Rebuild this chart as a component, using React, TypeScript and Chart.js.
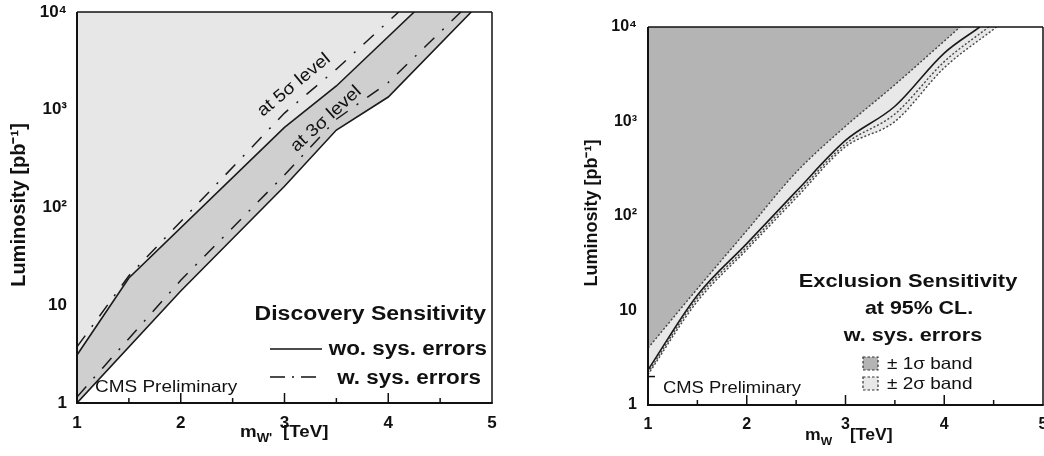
import React, { useEffect, useRef } from "react";
import { Chart, registerables } from "chart.js";

Chart.register(...registerables);

const FONT = "'Liberation Sans', Arial, Helvetica, sans-serif";
const INK = "#111111";

// ---------- axes ----------
const massTicks = [1, 2, 3, 4, 5];
const massMajorInner = [2, 3, 4];
const massMinorInner = [1.5, 2.5, 3.5, 4.5];
const lumiTicks = [1, 10, 100, 1000, 10000];
const lumiTickLabels = ["1", "10", "10²", "10³", "10⁴"];

// ---------- left panel: discovery sensitivity ----------
const disc5NoSysMass = [1, 1.5, 3, 3.5, 4.25];
const disc5NoSysLumi = [3.1, 19, 660, 1750, 10000];
const disc5SysMass = [1, 1.5, 3, 3.5, 4.1];
const disc5SysLumi = [3.75, 20, 925, 2600, 10000];
const disc3NoSysMass = [1, 2, 3, 3.5, 4, 4.8];
const disc3NoSysLumi = [1, 14, 165, 620, 1350, 10000];
const disc3SysMass = [1, 1.25, 2, 3, 3.5, 4, 4.7];
const disc3SysLumi = [1.15, 2.3, 18, 215, 800, 1900, 10000];

// ---------- right panel: exclusion sensitivity ----------
const exclUp2Mass = [1, 1.5, 2, 2.5, 3, 3.5, 4, 4.16];
const exclUp2Lumi = [4.0, 17, 70, 290, 890, 2450, 7100, 10000];
const exclMedMass = [1, 1.5, 2, 2.5, 3, 3.5, 4, 4.36];
const exclMedLumi = [2.35, 14.5, 51, 182, 630, 1450, 5300, 10000];
const exclLo1Mass = [1, 1.5, 2, 2.5, 3, 3.5, 4, 4.45];
const exclLo1Lumi = [2.2, 13.5, 47, 168, 580, 1200, 4300, 10000];
const exclLo2Mass = [1, 1.5, 2, 2.5, 3, 3.5, 4, 4.53];
const exclLo2Lumi = [2.1, 12.5, 44, 155, 540, 1000, 3700, 10000];

const pts = (m: number[], l: number[]) => m.map((x, i) => ({ x, y: l[i] }));

function txt(
  ctx: CanvasRenderingContext2D,
  s: string,
  x: number,
  y: number,
  font: string,
  align: CanvasTextAlign = "left",
  sx = 1.15,
  angle = 0,
  baseline: CanvasTextBaseline = "alphabetic"
) {
  ctx.save();
  ctx.translate(x, y);
  if (angle) ctx.rotate(angle);
  ctx.scale(sx, 1);
  ctx.font = font;
  ctx.textAlign = align;
  ctx.textBaseline = baseline;
  ctx.fillStyle = INK;
  ctx.fillText(s, 0, 0);
  ctx.restore();
}

function line(ctx: CanvasRenderingContext2D, x1: number, y1: number, x2: number, y2: number) {
  ctx.beginPath();
  ctx.moveTo(x1, y1);
  ctx.lineTo(x2, y2);
  ctx.stroke();
}

function frameAndTicks(ctx: CanvasRenderingContext2D, chart: any, yTickAt2: boolean) {
  const { left, right, top, bottom } = chart.chartArea;
  const xs = chart.scales.x;
  const ys = chart.scales.y;
  ctx.strokeStyle = INK;
  ctx.lineWidth = 1.5;
  line(ctx, left, top, right, top);
  line(ctx, right, top, right, bottom);
  ctx.lineWidth = 2;
  line(ctx, left, top, left, bottom + 1);
  line(ctx, left - 1, bottom, right + 0.75, bottom);
  ctx.lineWidth = 1.5;
  massMajorInner.forEach((v) => {
    const p = xs.getPixelForValue(v);
    line(ctx, p, bottom, p, bottom - 10);
  });
  massMinorInner.forEach((v) => {
    const p = xs.getPixelForValue(v);
    line(ctx, p, bottom, p, bottom - 5);
  });
  if (yTickAt2) {
    const p = ys.getPixelForValue(2);
    line(ctx, left, p, left + 7, p);
  }
}

function xTitle(ctx: CanvasRenderingContext2D, x: number, y: number, bracketX: number, size: number, sub: string) {
  txt(ctx, "m", x, y, `bold ${size}px ${FONT}`, "left", 1.1);
  ctx.font = `bold ${size}px ${FONT}`;
  const mw = ctx.measureText("m").width * 1.1;
  txt(ctx, sub, x + mw, y + 5, `bold ${Math.round(size * 0.68)}px ${FONT}`, "left", 1.1);
  txt(ctx, "[TeV]", bracketX, y, `bold ${size}px ${FONT}`, "left", 1.1);
}

const leftDeco = {
  id: "leftDeco",
  afterDraw(chart: any) {
    const ctx = chart.ctx as CanvasRenderingContext2D;
    ctx.save();
    frameAndTicks(ctx, chart, false);
    // y title
    txt(ctx, "Luminosity [pb⁻¹]", 19, 205, `bold 20px ${FONT}`, "center", 1.0, -Math.PI / 2, "middle");
    // x title
    xTitle(ctx, 240, 437, 283, 17, "W'");
    // curve labels
    txt(ctx, "at 5σ level", 294, 85, `17.5px ${FONT}`, "center", 1.1, -0.69, "middle");
    txt(ctx, "at 3σ level", 326, 119, `17.5px ${FONT}`, "center", 1.1, -0.74, "middle");
    // legend block
    txt(ctx, "Discovery Sensitivity", 486, 320, `bold 20px ${FONT}`, "right", 1.15);
    txt(ctx, "wo. sys. errors", 487, 355, `bold 19.5px ${FONT}`, "right", 1.15);
    txt(ctx, "w. sys. errors", 481, 384, `bold 19.5px ${FONT}`, "right", 1.15);
    ctx.strokeStyle = INK;
    ctx.lineWidth = 1.6;
    line(ctx, 270, 349, 322, 349);
    ctx.setLineDash([15, 7, 2, 7]);
    line(ctx, 270, 377, 322, 377);
    ctx.setLineDash([]);
    txt(ctx, "CMS Preliminary", 95, 392, `16.5px ${FONT}`, "left", 1.15);
    ctx.restore();
  },
};

const rightDeco = {
  id: "rightDeco",
  afterDraw(chart: any) {
    const ctx = chart.ctx as CanvasRenderingContext2D;
    ctx.save();
    frameAndTicks(ctx, chart, true);
    txt(ctx, "Luminosity [pb⁻¹]", 62, 213, `bold 18px ${FONT}`, "center", 1.0, -Math.PI / 2, "middle");
    xTitle(ctx, 275, 440, 320, 16, "W");
    txt(ctx, "Exclusion Sensitivity", 378, 287, `bold 19px ${FONT}`, "center", 1.15);
    txt(ctx, "at 95% CL.", 389, 314, `bold 18.6px ${FONT}`, "center", 1.15);
    txt(ctx, "w. sys. errors", 383, 341, `bold 18.8px ${FONT}`, "center", 1.15);
    // band legend
    ctx.lineWidth = 1.2;
    ctx.strokeStyle = "#333";
    ctx.setLineDash([2.5, 2]);
    ctx.fillStyle = "#b4b4b4";
    ctx.fillRect(333, 357, 15, 13);
    ctx.strokeRect(333, 357, 15, 13);
    ctx.fillStyle = "#e8e8e8";
    ctx.fillRect(333, 377, 15, 13);
    ctx.strokeRect(333, 377, 15, 13);
    ctx.setLineDash([]);
    txt(ctx, "± 1σ band", 357, 369, `16.5px ${FONT}`, "left", 1.15);
    txt(ctx, "± 2σ band", 357, 389, `16.5px ${FONT}`, "left", 1.15);
    txt(ctx, "CMS Preliminary", 133, 393, `16px ${FONT}`, "left", 1.15);
    ctx.restore();
  },
};

function zeroPad(s: any) {
  s.paddingTop = 0;
  s.paddingBottom = 0;
  s.paddingLeft = 0;
  s.paddingRight = 0;
}

function scales(fontSize: number, xPad: number, yPad: number, yWidth: number, xHeight: number) {
  const tickFont = { family: FONT, size: fontSize, weight: "bold" as const };
  return {
    x: {
      type: "linear" as const,
      min: 1,
      max: 5,
      afterBuildTicks: (s: any) => {
        s.ticks = massTicks.map((v) => ({ value: v }));
      },
      afterFit: (s: any) => {
        s.height = xHeight;
        zeroPad(s);
      },
      ticks: { font: tickFont, color: INK, padding: xPad, maxRotation: 0, autoSkip: false, callback: (v: any) => String(v) },
      grid: { display: false, drawTicks: false },
      border: { display: false },
    },
    y: {
      type: "logarithmic" as const,
      min: 1,
      max: 10000,
      afterBuildTicks: (s: any) => {
        s.ticks = lumiTicks.map((v) => ({ value: v }));
      },
      afterFit: (s: any) => {
        s.width = yWidth;
        zeroPad(s);
      },
      ticks: {
        font: tickFont,
        color: INK,
        padding: yPad,
        autoSkip: false,
        callback: (v: any) => lumiTickLabels[lumiTicks.indexOf(Number(v))] ?? "",
      },
      grid: { display: false, drawTicks: false },
      border: { display: false },
    },
  };
}

const common = {
  type: "line" as const,
  pointRadius: 0,
  pointHoverRadius: 0,
};

function leftConfig(): any {
  const dashDot = [14, 11, 2, 11];
  return {
    type: "line",
    data: {
      datasets: [
        { ...common, label: "3σ wo. sys.", data: pts(disc3NoSysMass, disc3NoSysLumi), borderColor: "#1a1a1a", borderWidth: 1.6, fill: "end", backgroundColor: "#cfcfcf", order: 10, tension: 0 },
        { ...common, label: "5σ wo. sys.", data: pts(disc5NoSysMass, disc5NoSysLumi), borderColor: "#1a1a1a", borderWidth: 1.6, fill: "end", backgroundColor: "#e7e7e7", order: 9, tension: 0 },
        { ...common, label: "5σ w. sys.", data: pts(disc5SysMass, disc5SysLumi), borderColor: "#1a1a1a", borderWidth: 1.5, borderDash: dashDot, fill: false, order: 2, tension: 0 },
        { ...common, label: "3σ w. sys.", data: pts(disc3SysMass, disc3SysLumi), borderColor: "#1a1a1a", borderWidth: 1.5, borderDash: dashDot, fill: false, order: 2, tension: 0 },
      ],
    },
    options: {
      animation: false,
      responsive: false,
      layout: { autoPadding: false, padding: { top: 12, right: 38, left: 0, bottom: 0 } },
      plugins: { legend: { display: false }, tooltip: { enabled: false } },
      scales: scales(17, 10, 10, 77, 53),
    },
    plugins: [leftDeco],
  };
}

function rightConfig(): any {
  const dotted = [2, 2];
  return {
    type: "line",
    data: {
      datasets: [
        { ...common, label: "-2σ", data: pts(exclLo2Mass, exclLo2Lumi), borderColor: "#444", borderWidth: 1.4, borderDash: dotted, fill: "end", backgroundColor: "#e8e8e8", order: 10, cubicInterpolationMode: "monotone" },
        { ...common, label: "+2σ", data: pts(exclUp2Mass, exclUp2Lumi), borderColor: "#444", borderWidth: 1.4, borderDash: dotted, fill: "end", backgroundColor: "#b4b4b4", order: 9, cubicInterpolationMode: "monotone" },
        { ...common, label: "-1σ", data: pts(exclLo1Mass, exclLo1Lumi), borderColor: "#444", borderWidth: 1.4, borderDash: dotted, fill: false, order: 3, cubicInterpolationMode: "monotone" },
        { ...common, label: "median", data: pts(exclMedMass, exclMedLumi), borderColor: "#1a1a1a", borderWidth: 1.6, fill: false, order: 1, cubicInterpolationMode: "monotone" },
      ],
    },
    options: {
      animation: false,
      responsive: false,
      layout: { autoPadding: false, padding: { top: 27, right: 1, left: 0, bottom: 0 } },
      plugins: { legend: { display: false }, tooltip: { enabled: false } },
      scales: scales(16, 10, 11, 118, 51),
    },
    plugins: [rightDeco],
  };
}

export default function App() {
  const leftRef = useRef<HTMLCanvasElement>(null);
  const rightRef = useRef<HTMLCanvasElement>(null);
  useEffect(() => {
    const c1 = new Chart(leftRef.current as HTMLCanvasElement, leftConfig());
    const c2 = new Chart(rightRef.current as HTMLCanvasElement, rightConfig());
    return () => {
      c1.destroy();
      c2.destroy();
    };
  }, []);
  return (
    <div style={{ position: "absolute", left: 0, top: 0, width: 1044, height: 456, background: "#fff", overflow: "hidden" }}>
      <canvas ref={leftRef} width={530} height={456} style={{ position: "absolute", left: 0, top: 0, width: 530, height: 456 }} />
      <canvas ref={rightRef} width={514} height={456} style={{ position: "absolute", left: 530, top: 0, width: 514, height: 456 }} />
    </div>
  );
}
